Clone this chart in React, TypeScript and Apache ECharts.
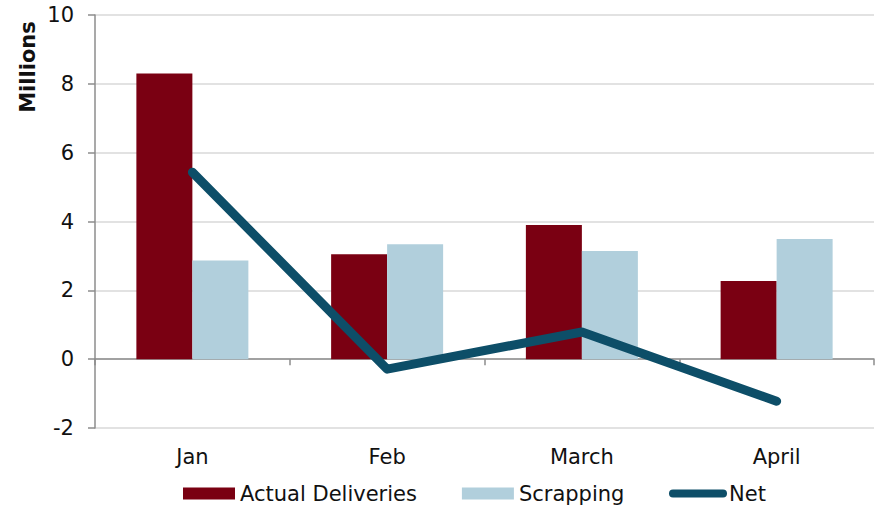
import React, { useEffect, useRef } from "react";
import * as echarts from "echarts";

const categories = ["Jan", "Feb", "March", "April"];
const actualDeliveries = [8.3, 3.05, 3.9, 2.27];
const scrapping = [2.87, 3.34, 3.14, 3.49];
const net = [5.43, -0.29, 0.79, -1.22];
const yTicks = { min: -2, max: 10, interval: 2 };

const FONT = "DejaVu Sans, Verdana, sans-serif";

export default function App() {
  const ref = useRef<HTMLDivElement>(null);
  useEffect(() => {
    document.body.style.margin = "0";
    if (!ref.current) return;
    const chart = echarts.init(ref.current, null, { renderer: "svg" });
    chart.setOption({
      animation: false,
      backgroundColor: "#ffffff",
      textStyle: { fontFamily: FONT },
      grid: { left: 95, right: 5, top: 15, bottom: 77 },
      legend: [
        {
          data: ["Actual Deliveries", "Scrapping"],
          left: 183,
          top: 483,
          padding: 0,
          itemWidth: 52,
          itemHeight: 12,
          itemGap: 45,
          icon: "rect",
          textStyle: { fontSize: 21, color: "#111", fontFamily: FONT },
        },
        {
          data: [{ name: "Net", icon: "path://M4,0 H54 A4,4 0 0 1 54,8 H4 A4,4 0 0 1 4,0 Z" }],
          left: 669,
          top: 483,
          padding: 0,
          itemWidth: 58,
          itemHeight: 8,
          textStyle: { fontSize: 21, color: "#111", fontFamily: FONT, padding: [0, 0, 0, -3] },
        },
      ],
      xAxis: [
        {
          type: "category",
          data: categories,
          position: "bottom",
          axisLine: { show: false, onZero: false },
          axisTick: { show: false },
          axisLabel: { fontSize: 21, color: "#111", margin: 18, fontFamily: FONT },
        },
        {
          type: "category",
          data: categories,
          position: "bottom",
          axisLine: { show: true, onZero: true, lineStyle: { color: "#8c8c8c", width: 1.5 } },
          axisTick: { show: true, length: 6, lineStyle: { color: "#8c8c8c", width: 1.5 } },
          axisLabel: { show: false },
        },
      ],
      yAxis: {
        type: "value",
        min: yTicks.min,
        max: yTicks.max,
        interval: yTicks.interval,
        axisLine: { show: true, lineStyle: { color: "#8c8c8c", width: 1.5 } },
        axisTick: { show: true, length: 7, lineStyle: { color: "#8c8c8c", width: 1.5 } },
        axisLabel: { fontSize: 21, color: "#111", margin: 21, fontFamily: FONT },
        splitLine: { show: true, lineStyle: { color: "#d9d9d9", width: 1.5 } },
      },
      series: [
        {
          name: "Actual Deliveries",
          type: "bar",
          data: actualDeliveries,
          barWidth: 56,
          barGap: "0%",
          itemStyle: { color: "#7a0012" },
        },
        {
          name: "Scrapping",
          type: "bar",
          data: scrapping,
          barWidth: 56,
          barGap: "0%",
          itemStyle: { color: "#b1cfdc" },
        },
        {
          name: "Net",
          type: "line",
          data: net,
          symbol: "none",
          z: 5,
          lineStyle: { color: "#0d4e68", width: 9, cap: "round", join: "round" },
          itemStyle: { color: "#0d4e68" },
        },
      ],
      graphic: [
        {
          type: "text",
          x: 28,
          y: 67,
          rotation: Math.PI / 2,
          style: {
            text: "Millions",
            fontSize: 21,
            fontWeight: "bold",
            fontFamily: FONT,
            fill: "#111",
            align: "center",
            verticalAlign: "middle",
          },
        },
      ],
    });
    return () => chart.dispose();
  }, []);
  return <div ref={ref} style={{ width: 879, height: 505 }} />;
}
